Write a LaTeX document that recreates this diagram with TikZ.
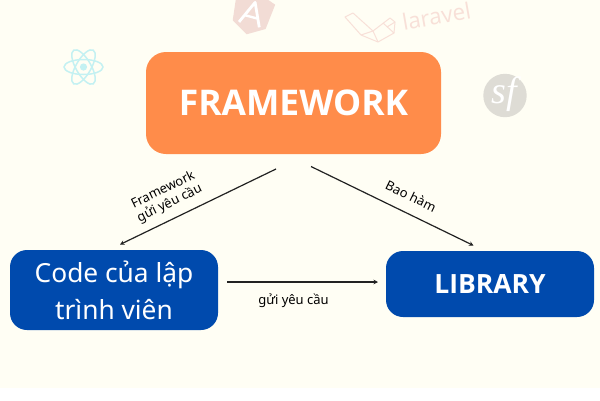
\documentclass[tikz,border=0pt]{standalone}
\usepackage{fontspec}
\setmainfont{Noto Sans}
\newfontfamily\boldfam{Open Sans}[UprightFont=* Bold]
\newfontfamily\sfsym{Liberation Serif}
\newfontfamily\lara{Open Sans}
\usetikzlibrary{arrows.meta}
\definecolor{bgcream}{HTML}{FFFEF4}
\definecolor{orangebox}{HTML}{FF8C4A}
\definecolor{bluebox}{HTML}{004AAD}
\definecolor{reactc}{HTML}{C4F1F2}
\definecolor{angc}{HTML}{F2DCD5}
\definecolor{larc}{HTML}{F8E0D8}
\definecolor{sfc}{HTML}{DEDCD5}
\definecolor{linec}{HTML}{222222}
\tikzset{
  x=1pt,y=-1pt,
  box/.style={draw=none,rounded corners=#1,inner sep=0pt,text=white,align=center},
  conn/.style={draw=linec,line width=1.2pt,-{Stealth[length=4.5pt,width=4.5pt]}},
  lab/.style={font=\fontsize{13}{15}\selectfont,text=black,align=center,inner sep=0pt},
}
\begin{document}
\begin{tikzpicture}
\useasboundingbox (0,0) rectangle (600,400);
\fill[white] (0,0) rectangle (600,400);
\fill[bgcream] (0,0) rectangle (600,387.5);
% React logo
\begin{scope}[shift={(83.5,67)},draw=reactc,line width=1.5pt]
  \fill[reactc] (0,0) circle (3.6);
  \draw (0,0) ellipse [x radius=19.5,y radius=7.5];
  \draw[rotate=60] (0,0) ellipse [x radius=19.5,y radius=7.5];
  \draw[rotate=120] (0,0) ellipse [x radius=19.5,y radius=7.5];
\end{scope}
% Angular logo
\begin{scope}
  \clip (0,0) rectangle (600,400);
  \begin{scope}[shift={(252,14)},rotate=-15]
    \fill[angc] (0,-22) -- (20,-15) -- (17,11) -- (0,21) -- (-17,11) -- (-20,-15) -- cycle;
    \draw[white,line width=2.8pt,line join=round] (-10.5,11) -- (0,-12) -- (10.5,11);
    \draw[white,line width=2.4pt] (-6,3) -- (6,3);
  \end{scope}
\end{scope}
% Laravel logo
\begin{scope}[draw=larc,line width=1pt,line join=round]
  \draw (345,17) -- (353,13) -- (373,31) -- (390,18) -- (395,22) -- (394,33) -- (378,42) -- (361,35) -- cycle;
  \draw (373,31) -- (361,35);
  \draw (373,31) -- (378,42);
  \draw (383,23) -- (394,33);
  \draw (395,22) -- (387,27);
\end{scope}
\node[rotate=10,text=larc,font=\lara\fontsize{22.5}{24}\selectfont,inner sep=0pt] (larlabel) at (436.5,16) {laravel};
% Symfony logo
\fill[sfc] (505,95.5) circle (21.7);
\node[text=white,font=\sfsym\itshape\fontsize{38}{38}\selectfont,inner sep=0pt] (sflabel) at (504.5,94) {sf};
% Boxes
\node[box=20pt,fill=orangebox,minimum width=295pt,minimum height=102pt,font=\boldfam\fontsize{35.4}{40}\selectfont] (fw) at (293.5,103) {FRAMEWORK};
\node[box=17pt,fill=bluebox,minimum width=208pt,minimum height=80pt,font=\fontsize{26.3}{37}\selectfont] (code) at (114,290) {Code của lập\\trình viên};
\node[box=17pt,fill=bluebox,minimum width=208pt,minimum height=66pt,font=\boldfam\fontsize{26.5}{30}\selectfont] (lib) at (490,284) {LIBRARY};
% Connector ends
\coordinate (a1) at (276,169);
\coordinate (a2) at (120,244.5);
\coordinate (b1) at (311,166.5);
\coordinate (b2) at (473.5,245.5);
\coordinate (c1) at (227,282);
\coordinate (c2) at (378,282);
\draw[conn] (a1) -- (a2);
\draw[conn] (b1) -- (b2);
\draw[conn] (c1) -- (c2);
% Labels
\node[lab,rotate=26] (l1) at (166.5,197) {Framework\\gửi yêu cầu};
\node[lab,rotate=-26] (l2) at (411,196) {Bao hàm};
\node[lab] (l3) at (293.5,301) {gửi yêu cầu};
\end{tikzpicture}
\end{document}
